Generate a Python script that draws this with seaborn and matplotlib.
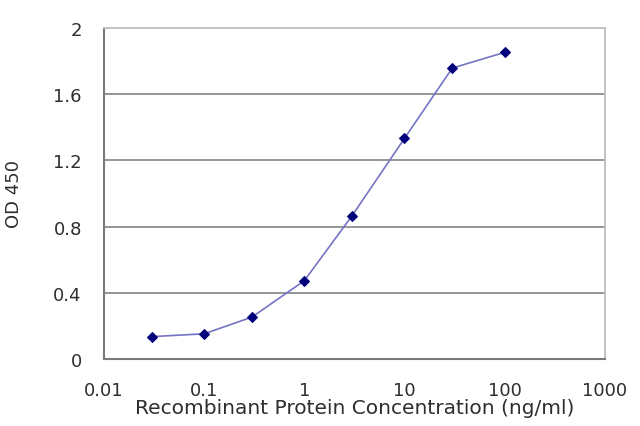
import numpy as np
import pandas as pd
import matplotlib
matplotlib.use('Agg')
import matplotlib.pyplot as plt
import seaborn as sns
from matplotlib.ticker import FixedLocator, FixedFormatter

conc = [0.03, 0.1, 0.3, 1, 3, 10, 30, 100]
od450 = [0.135, 0.152, 0.253, 0.473, 0.866, 1.333, 1.758, 1.853]
x_ticks = [0.01, 0.1, 1, 10, 100, 1000]
x_labels = ['0.01', '0.1', '1', '10', '100', '1000']
y_ticks = [0, 0.4, 0.8, 1.2, 1.6, 2]
y_labels = ['0', '0.4', '0.8', '1.2', '1.6', '2']

df = pd.DataFrame({'conc': conc, 'od': od450})

sns.set_style('white')
plt.rcParams['font.family'] = ['DejaVu Sans']

fig = plt.figure(figsize=(6.4, 4.27), dpi=100)
ax = fig.add_axes([0.1625, 0.157, 0.7825, 0.775])

for yv in y_ticks[1:-1]:
    ax.axhline(yv, color='#8c8c8c', lw=1.3, zorder=0)

sns.lineplot(data=df, x='conc', y='od', ax=ax, color='#7474c4', lw=1.2,
             marker='D', markersize=5, markerfacecolor='#00007a',
             markeredgecolor='#00007a')

ax.set_xscale('log')
ax.set_xlim(0.01, 1000)
ax.set_ylim(0, 2)
ax.xaxis.set_major_locator(FixedLocator(x_ticks))
ax.xaxis.set_major_formatter(FixedFormatter(x_labels))
ax.xaxis.set_minor_locator(FixedLocator([]))
ax.set_yticks(y_ticks)
ax.set_yticklabels(y_labels)

ax.tick_params(axis='x', direction='in', length=3, width=1, color='#777777',
               labelsize=13, labelcolor='#2e2e2e', pad=16)
ax.tick_params(axis='y', length=0, labelsize=13, labelcolor='#2e2e2e', pad=16)

for side in ['left', 'bottom']:
    ax.spines[side].set_color('#7a7a7a')
    ax.spines[side].set_linewidth(1.5)
for side in ['top', 'right']:
    ax.spines[side].set_color('#bdbdbd')
    ax.spines[side].set_linewidth(1.3)

ax.set_xlabel('Recombinant Protein Concentration (ng/ml)', fontsize=14.5,
              color='#2e2e2e', labelpad=-1)
ax.set_ylabel('OD 450', fontsize=13, color='#2e2e2e', labelpad=22)

fig.savefig('out.png', dpi=100)
